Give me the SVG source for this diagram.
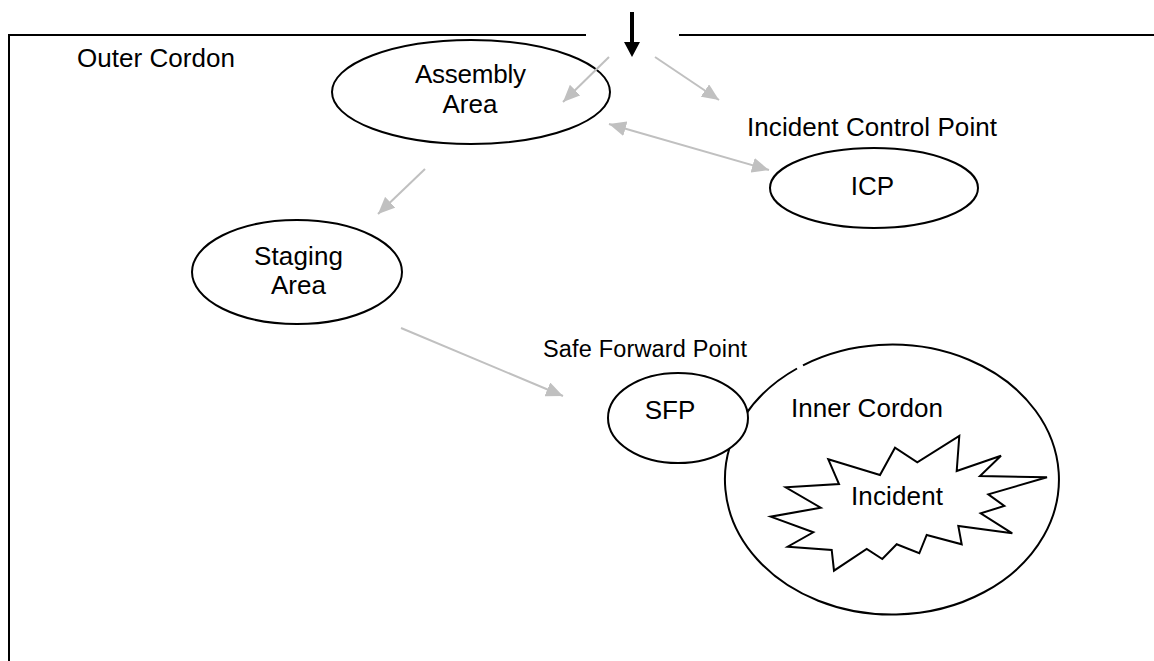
<svg xmlns="http://www.w3.org/2000/svg" width="1154" height="661" viewBox="0 0 1154 661">
<style>
  .shape { fill: #fff; stroke: #000; stroke-width: 2; }
  .lbl { font-family: "Liberation Sans", Arial, sans-serif; font-size: 26px; fill: #000; }
  .sm { font-size: 23.5px; }
  .mid { text-anchor: middle; }
  .conn { stroke: #c0c0c0; stroke-width: 2; fill: none; }
</style>
<defs>
  <marker id="ah" markerUnits="userSpaceOnUse" markerWidth="19" markerHeight="15" refX="17" refY="7.5" orient="auto-start-reverse" viewBox="0 0 19 15">
    <path d="M0,0 L17,7.5 L0,15 Z" fill="#c0c0c0"/>
  </marker>
</defs>
<rect width="1154" height="661" fill="#fff"/>
<g id="outer-cordon">
  <path d="M9,661 L9,35 L586,35 M679,35 L1154,35" fill="none" stroke="#000" stroke-width="2"/>
  <text class="lbl" x="77" y="67" textLength="158" lengthAdjust="spacing">Outer Cordon</text>
</g>
<g id="entry-arrow">
  <line x1="632" y1="12" x2="632" y2="44" stroke="#000" stroke-width="4"/>
  <path d="M624,42 L640,42 L632,57 Z" fill="#000"/>
</g>
<g id="assembly-area">
  <ellipse class="shape" cx="471" cy="92" rx="139" ry="52"/>
  <text class="lbl mid" x="470.5" y="83" textLength="111" lengthAdjust="spacing">Assembly</text>
  <text class="lbl mid" x="470" y="113">Area</text>
</g>
<g id="icp">
  <text class="lbl" x="747" y="136" textLength="250" lengthAdjust="spacing">Incident Control Point</text>
  <ellipse class="shape" cx="874" cy="188" rx="104" ry="40"/>
  <text class="lbl mid" x="872.5" y="195">ICP</text>
</g>
<g id="staging-area">
  <ellipse class="shape" cx="297" cy="272" rx="105" ry="52"/>
  <text class="lbl mid" x="298.5" y="265" textLength="89" lengthAdjust="spacing">Staging</text>
  <text class="lbl mid" x="298.5" y="294">Area</text>
</g>
<g id="inner-cordon">
  <path class="shape" d="M803,365.3 A167,135 0 1 1 797,368.5"/>
  <text class="lbl" x="791" y="417" textLength="152" lengthAdjust="spacing">Inner Cordon</text>
</g>
<g id="incident">
  <polygon class="shape" points="828.3,459.3 880,475 895,447.7 917.3,462.3 959.3,436 956.7,471 1001,455.7 980,476 1047,477.3 988.3,494.3 1004.3,506 980.7,513.3 1012.3,533.3 958.3,526 961.7,544.3 926.7,535 919.3,553.3 896.7,544.3 882.3,559 866.7,549 834,570.7 831.7,550 787.7,546.7 813.3,532.3 770.7,516.7 820.7,507.7 785.7,487.3 839,484"/>
  <text class="lbl" x="851" y="505" textLength="92" lengthAdjust="spacing">Incident</text>
</g>
<g id="sfp">
  <text class="lbl sm" x="543" y="357" textLength="204" lengthAdjust="spacing">Safe Forward Point</text>
  <ellipse class="shape" cx="678" cy="418" rx="70" ry="45"/>
  <text class="lbl mid" x="670" y="419">SFP</text>
</g>
<g id="connectors">
  <line class="conn" x1="609" y1="57" x2="563" y2="102" marker-end="url(#ah)"/>
  <line class="conn" x1="655" y1="57" x2="719" y2="100" marker-end="url(#ah)"/>
  <line class="conn" x1="609" y1="124" x2="769" y2="170" marker-start="url(#ah)" marker-end="url(#ah)"/>
  <line class="conn" x1="425" y1="169" x2="378" y2="214" marker-end="url(#ah)"/>
  <line class="conn" x1="401" y1="328" x2="563" y2="396" marker-end="url(#ah)"/>
</g>
</svg>
